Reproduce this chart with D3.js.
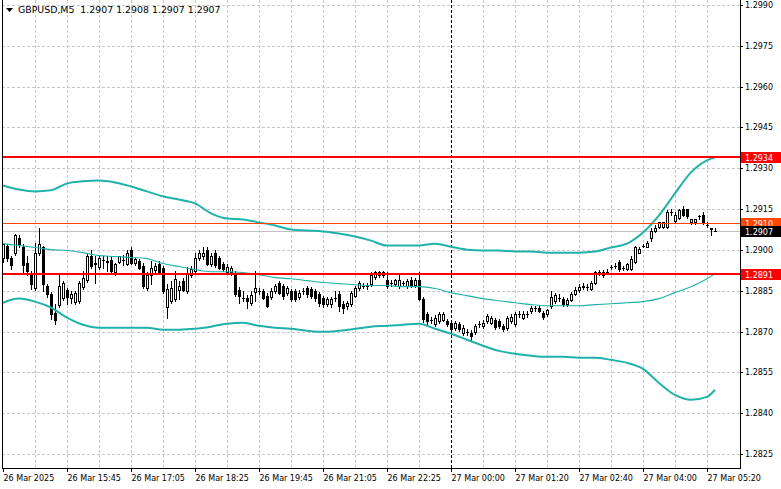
<!DOCTYPE html>
<html><head><meta charset="utf-8">
<script src="https://cdn.jsdelivr.net/npm/d3@7"></script>
<style>html,body{margin:0;padding:0;background:#fff;overflow:hidden}svg{display:block}text{font-family:"DejaVu Sans",sans-serif}</style>
</head><body><svg id="c" width="781" height="489"></svg>
<script>
const symbolTitle = "GBPUSD,M5";
const headerOHLC = ["1.2907", "1.2908", "1.2907", "1.2907"];

const opens = [1.28972,1.29016,1.28972,1.28990,1.29045,1.29012,1.28953,1.28913,1.28861,1.28990,
1.29009,1.28869,1.28839,1.28769,1.28799,1.28824,1.28854,1.28824,1.28810,1.28813,
1.28865,1.28891,1.28979,1.28950,1.28939,1.28964,1.28961,1.28964,1.28917,1.28957,
1.28964,1.28950,1.29001,1.28953,1.28961,1.28942,1.28861,1.28906,1.28928,1.28950,
1.28935,1.28791,1.28813,1.28821,1.28854,1.28887,1.28850,1.28909,1.28924,1.28972,
1.28976,1.29001,1.28950,1.28990,1.28972,1.28950,1.28920,1.28917,1.28913,1.28854,
1.28824,1.28824,1.28806,1.28847,1.28850,1.28850,1.28832,1.28828,1.28850,1.28880,
1.28869,1.28843,1.28850,1.28850,1.28828,1.28850,1.28861,1.28858,1.28850,1.28839,
1.28824,1.28802,1.28802,1.28824,1.28839,1.28802,1.28795,1.28802,1.28832,1.28861,
1.28869,1.28869,1.28876,1.28902,1.28917,1.28917,1.28891,1.28880,1.28876,1.28869,
1.28880,1.28869,1.28891,1.28872,1.28891,1.28821,1.28766,1.28743,1.28729,1.28740,
1.28743,1.28740,1.28732,1.28714,1.28729,1.28696,1.28699,1.28696,1.28699,1.28729,
1.28721,1.28740,1.28732,1.28743,1.28740,1.28721,1.28714,1.28740,1.28729,1.28766,
1.28751,1.28766,1.28777,1.28788,1.28788,1.28769,1.28766,1.28795,1.28813,1.28824,
1.28821,1.28802,1.28817,1.28839,1.28854,1.28865,1.28865,1.28858,1.28880,1.28917,
1.28906,1.28920,1.28939,1.28942,1.28957,1.28935,1.28931,1.28931,1.28957,1.28990,
1.29016,1.29012,1.29042,1.29068,1.29086,1.29086,1.29086,1.29138,1.29108,1.29119,
1.29152,1.29149,1.29101,1.29101,1.29123,1.29130,1.29093,1.29079,1.29070];

const highs = [1.29023,1.29023,1.28979,1.29060,1.29053,1.29020,1.28976,1.28924,1.29027,1.29082,
1.29016,1.28876,1.28847,1.28802,1.28909,1.28887,1.28861,1.28850,1.28850,1.28887,
1.28924,1.28987,1.28998,1.28979,1.28976,1.28979,1.28976,1.28976,1.28953,1.28979,
1.28983,1.29001,1.29012,1.28972,1.28968,1.28953,1.28917,1.28961,1.28953,1.28961,
1.28942,1.28876,1.28887,1.28924,1.28887,1.28898,1.28939,1.28942,1.28990,1.28998,
1.29012,1.29009,1.28987,1.28998,1.28979,1.28957,1.28950,1.28942,1.28924,1.28865,
1.28850,1.28836,1.28850,1.28924,1.28861,1.28858,1.28843,1.28861,1.28876,1.28887,
1.28876,1.28869,1.28858,1.28858,1.28854,1.28861,1.28869,1.28865,1.28858,1.28847,
1.28832,1.28828,1.28828,1.28850,1.28850,1.28813,1.28813,1.28850,1.28869,1.28887,
1.28880,1.28880,1.28917,1.28924,1.28924,1.28924,1.28917,1.28891,1.28894,1.28913,
1.28887,1.28894,1.28902,1.28898,1.28917,1.28828,1.28773,1.28754,1.28762,1.28773,
1.28773,1.28747,1.28740,1.28740,1.28736,1.28725,1.28710,1.28707,1.28729,1.28740,
1.28743,1.28766,1.28758,1.28751,1.28747,1.28729,1.28758,1.28766,1.28773,1.28777,
1.28777,1.28777,1.28795,1.28795,1.28795,1.28777,1.28784,1.28850,1.28843,1.28839,
1.28828,1.28824,1.28847,1.28865,1.28876,1.28880,1.28876,1.28887,1.28924,1.28928,
1.28928,1.28931,1.28946,1.28953,1.28964,1.28942,1.28953,1.28976,1.29016,1.29012,
1.29023,1.29031,1.29079,1.29090,1.29104,1.29104,1.29145,1.29149,1.29138,1.29152,
1.29160,1.29152,1.29115,1.29115,1.29130,1.29138,1.29101,1.29082,1.29080];

const lows = [1.28957,1.28961,1.28931,1.28983,1.29009,1.28917,1.28909,1.28858,1.28854,1.28983,
1.28850,1.28828,1.28747,1.28729,1.28791,1.28817,1.28802,1.28806,1.28802,1.28806,
1.28858,1.28883,1.28935,1.28880,1.28931,1.28935,1.28924,1.28917,1.28909,1.28953,
1.28946,1.28946,1.28950,1.28946,1.28931,1.28861,1.28854,1.28876,1.28917,1.28913,
1.28843,1.28751,1.28806,1.28813,1.28821,1.28850,1.28843,1.28902,1.28920,1.28964,
1.28968,1.28946,1.28942,1.28939,1.28931,1.28924,1.28913,1.28909,1.28832,1.28806,
1.28813,1.28788,1.28799,1.28813,1.28839,1.28821,1.28791,1.28821,1.28843,1.28839,
1.28821,1.28836,1.28813,1.28813,1.28821,1.28839,1.28828,1.28824,1.28813,1.28795,
1.28791,1.28795,1.28791,1.28813,1.28777,1.28769,1.28784,1.28795,1.28828,1.28854,
1.28861,1.28858,1.28869,1.28894,1.28902,1.28902,1.28861,1.28869,1.28869,1.28861,
1.28872,1.28861,1.28865,1.28865,1.28817,1.28736,1.28725,1.28732,1.28721,1.28732,
1.28740,1.28721,1.28692,1.28707,1.28703,1.28688,1.28688,1.28670,1.28692,1.28718,
1.28714,1.28732,1.28729,1.28710,1.28714,1.28703,1.28707,1.28732,1.28721,1.28754,
1.28747,1.28754,1.28769,1.28777,1.28773,1.28747,1.28758,1.28788,1.28806,1.28813,
1.28795,1.28795,1.28813,1.28836,1.28847,1.28858,1.28854,1.28854,1.28876,1.28906,
1.28902,1.28913,1.28931,1.28935,1.28924,1.28928,1.28928,1.28928,1.28953,1.28987,
1.29009,1.29009,1.29034,1.29064,1.29082,1.29082,1.29082,1.29127,1.29104,1.29115,
1.29123,1.29119,1.29097,1.29097,1.29115,1.29097,1.29086,1.29053,1.29070];

const closes = [1.29020,1.28972,1.28946,1.29053,1.29020,1.28946,1.28924,1.28876,1.28990,1.29020,
1.28876,1.28839,1.28766,1.28743,1.28869,1.28880,1.28828,1.28839,1.28843,1.28880,
1.28898,1.28979,1.28942,1.28953,1.28972,1.28964,1.28957,1.28924,1.28950,1.28976,
1.28964,1.28990,1.28953,1.28968,1.28935,1.28869,1.28906,1.28935,1.28942,1.28917,
1.28850,1.28858,1.28861,1.28894,1.28869,1.28854,1.28913,1.28931,1.28972,1.28990,
1.28990,1.28950,1.28976,1.28946,1.28935,1.28931,1.28939,1.28935,1.28839,1.28832,
1.28824,1.28813,1.28836,1.28861,1.28850,1.28824,1.28795,1.28850,1.28869,1.28843,
1.28832,1.28861,1.28821,1.28821,1.28843,1.28850,1.28839,1.28832,1.28824,1.28806,
1.28802,1.28821,1.28821,1.28824,1.28795,1.28788,1.28806,1.28843,1.28861,1.28880,
1.28869,1.28869,1.28906,1.28917,1.28906,1.28906,1.28869,1.28880,1.28891,1.28891,
1.28880,1.28887,1.28869,1.28891,1.28821,1.28747,1.28740,1.28743,1.28751,1.28766,
1.28766,1.28729,1.28710,1.28732,1.28710,1.28714,1.28699,1.28685,1.28721,1.28729,
1.28732,1.28758,1.28751,1.28718,1.28721,1.28710,1.28751,1.28754,1.28766,1.28766,
1.28766,1.28766,1.28788,1.28788,1.28777,1.28754,1.28780,1.28828,1.28836,1.28824,
1.28802,1.28817,1.28839,1.28854,1.28865,1.28869,1.28865,1.28880,1.28917,1.28917,
1.28917,1.28920,1.28939,1.28942,1.28931,1.28935,1.28950,1.28968,1.29009,1.29005,
1.29016,1.29027,1.29071,1.29082,1.29101,1.29101,1.29138,1.29138,1.29130,1.29145,
1.29127,1.29123,1.29112,1.29112,1.29123,1.29101,1.29093,1.29075,1.29070];

// Bollinger band readings at these bar indices
const bandBars = [0,4,8,12,16,20,24,28,32,36,40,44,48,52,56,60,64,68,72,76,80,84,88,92,96,100,
104,108,112,116,120,124,128,132,136,140,144,148,152,156,160,164,168,172,176,178];
const bandUpper = [1.29237,1.29222,1.29215,1.29219,1.29244,1.29252,1.29255,1.29248,1.29233,1.29215,
1.29197,1.29185,1.29171,1.29134,1.29115,1.29112,1.29101,1.29090,1.29075,1.29071,
1.29068,1.29060,1.29049,1.29034,1.29016,1.29016,1.29016,1.29023,1.29012,1.29001,
1.28998,1.28998,1.28994,1.28994,1.28990,1.28990,1.28990,1.28994,1.29009,1.29023,
1.29064,1.29127,1.29208,1.29285,1.29329,1.29340];
const bandMiddle = [1.29023,1.29016,1.29009,1.29001,1.28998,1.28990,1.28979,1.28976,1.28972,1.28968,
1.28950,1.28939,1.28928,1.28920,1.28920,1.28917,1.28909,1.28898,1.28894,1.28887,
1.28880,1.28876,1.28872,1.28869,1.28869,1.28865,1.28865,1.28858,1.28843,1.28832,
1.28821,1.28813,1.28806,1.28799,1.28795,1.28795,1.28795,1.28799,1.28802,1.28806,
1.28810,1.28821,1.28843,1.28865,1.28894,1.28913];
const bandLower = [1.28806,1.28821,1.28810,1.28788,1.28751,1.28725,1.28714,1.28714,1.28714,1.28714,
1.28707,1.28707,1.28710,1.28718,1.28729,1.28732,1.28721,1.28714,1.28710,1.28703,
1.28699,1.28703,1.28710,1.28718,1.28721,1.28725,1.28729,1.28710,1.28692,1.28670,
1.28648,1.28629,1.28618,1.28611,1.28607,1.28607,1.28604,1.28604,1.28596,1.28585,
1.28563,1.28511,1.28467,1.28449,1.28460,1.28486];

const priceTicks = [1.2990,1.2975,1.2960,1.2945,1.2930,1.2915,1.2900,1.2885,1.2870,1.2855,1.2840,1.2825];
const timeBars = [0,16,32,48,64,80,96,112,128,144,160,176];
const timeLabels = ["26 Mar 2025","26 Mar 15:45","26 Mar 17:05","26 Mar 18:25","26 Mar 19:45","26 Mar 21:05",
"26 Mar 22:25","27 Mar 00:00","27 Mar 01:20","27 Mar 02:40","27 Mar 04:00","27 Mar 05:20"];
const gridBars = [8,16,24,32,40,48,56,64,72,80,88,96,104,120,128,136,144,152,160,168,176];
const separatorBar = 112;
const redLevels = [1.2934, 1.2891];
const orangeLevel = 1.2910;
const bidPrice = 1.2907;

const svg = d3.select("#c");
const plotL = 2, plotR = 740, plotB = 468;
const x = d3.scaleLinear().domain([0, 178]).range([3, 715]);
const y = d3.scaleLinear().domain([1.2825, 1.2990]).range([454, 5]);
const ry = v => Math.round(y(v));
const fmt = d3.format(".4f");

svg.append("rect").attr("width", 781).attr("height", 489).attr("fill", "#fff");

// grid
const grid = svg.append("g").attr("shape-rendering", "crispEdges").attr("stroke", "#c8c8c8").attr("stroke-dasharray", "3,2");
grid.selectAll("line.h").data(priceTicks).join("line").attr("class", "h")
  .attr("x1", plotL).attr("x2", plotR).attr("y1", d => ry(d) + 0.5).attr("y2", d => ry(d) + 0.5);
grid.selectAll("line.v").data(gridBars).join("line").attr("class", "v")
  .attr("x1", d => Math.round(x(d)) + 0.5).attr("x2", d => Math.round(x(d)) + 0.5).attr("y1", 0).attr("y2", plotB);
svg.append("line").attr("shape-rendering", "crispEdges")
  .attr("x1", Math.round(x(separatorBar)) + 0.5).attr("x2", Math.round(x(separatorBar)) + 0.5)
  .attr("y1", 0).attr("y2", plotB).attr("stroke", "#000").attr("stroke-dasharray", "3,2");

// bid line
svg.append("line").attr("shape-rendering", "crispEdges").attr("x1", plotL).attr("x2", plotR)
  .attr("y1", ry(bidPrice) + 0.5).attr("y2", ry(bidPrice) + 0.5).attr("stroke", "#c0c0c0");

// candles
const cg = svg.append("g").attr("shape-rendering", "crispEdges");
const idx = d3.range(opens.length);
idx.forEach(i => {
  const px = Math.round(x(i));
  const yh = ry(highs[i]), yl = ry(lows[i]), yo = ry(opens[i]), yc = ry(closes[i]);
  cg.append("line").attr("x1", px + 0.5).attr("x2", px + 0.5).attr("y1", yh).attr("y2", yl + 1).attr("stroke", "#000");
  const top = Math.min(yo, yc), bot = Math.max(yo, yc);
  if (bot - top < 1) {
    cg.append("line").attr("x1", px - 1).attr("x2", px + 2).attr("y1", top + 0.5).attr("y2", top + 0.5).attr("stroke", "#000");
  } else {
    cg.append("rect").attr("x", px - 0.5).attr("y", top + 0.5).attr("width", 2).attr("height", bot - top)
      .attr("fill", closes[i] >= opens[i] ? "#fff" : "#000").attr("stroke", "#000");
  }
});

// bands
const teal = "#20b2aa";
const bandLine = arr => d3.line().x((d, k) => x(bandBars[k])).y(d => y(d)).curve(d3.curveMonotoneX)(arr);
svg.append("path").attr("d", bandLine(bandMiddle)).attr("fill", "none").attr("stroke", teal).attr("stroke-width", 1.1);
svg.append("path").attr("d", bandLine(bandUpper)).attr("fill", "none").attr("stroke", teal).attr("stroke-width", 2);
svg.append("path").attr("d", bandLine(bandLower)).attr("fill", "none").attr("stroke", teal).attr("stroke-width", 2);

// level lines
const lv = svg.append("g").attr("shape-rendering", "crispEdges");
lv.append("line").attr("x1", plotL).attr("x2", plotR).attr("y1", ry(orangeLevel) + 0.5).attr("y2", ry(orangeLevel) + 0.5)
  .attr("stroke", "#ff4500");
lv.selectAll("line.red").data(redLevels).join("line").attr("class", "red")
  .attr("x1", plotL).attr("x2", plotR).attr("y1", d => ry(d)).attr("y2", d => ry(d))
  .attr("stroke", "#ff0000").attr("stroke-width", 2);

// frame
const fr = svg.append("g").attr("shape-rendering", "crispEdges").attr("stroke", "#000");
fr.append("line").attr("x1", plotL + 0.5).attr("x2", plotL + 0.5).attr("y1", 0).attr("y2", plotB + 1);
fr.append("line").attr("x1", plotR + 0.5).attr("x2", plotR + 0.5).attr("y1", 0).attr("y2", plotB + 1);
fr.append("line").attr("x1", plotL).attr("x2", plotR + 1).attr("y1", plotB + 0.5).attr("y2", plotB + 0.5);

// right price axis
const yAxis = d3.axisRight(y).tickValues(priceTicks).tickFormat(fmt).tickSize(3).tickSizeOuter(0).tickPadding(2);
const ya = svg.append("g").attr("transform", `translate(${plotR},0)`).call(yAxis);
ya.select(".domain").remove();
ya.selectAll(".tick").attr("transform", d => `translate(0,${ry(d) + 0.5})`);
ya.selectAll(".tick line").attr("stroke", "#000").attr("shape-rendering", "crispEdges").attr("x1", 0.5);
ya.selectAll(".tick text").attr("font-family", "DejaVu Sans").attr("font-size", 8).attr("fill", "#000").attr("dy", "0.34em");

// bottom time axis
const xAxis = d3.axisBottom(x).tickValues(timeBars).tickFormat((d, k) => timeLabels[k]).tickSize(4).tickSizeOuter(0).tickPadding(3);
const xa = svg.append("g").attr("transform", `translate(0,${plotB})`).call(xAxis);
xa.select(".domain").remove();
xa.selectAll(".tick").attr("transform", d => `translate(${Math.round(x(d)) + 0.5},0)`);
xa.selectAll(".tick line").attr("stroke", "#000").attr("shape-rendering", "crispEdges").attr("y1", 1);
xa.selectAll(".tick text").attr("font-family", "DejaVu Sans").attr("font-size", 8).attr("fill", "#000")
  .attr("text-anchor", "start").attr("x", 0).attr("dy", "0.71em");

// price tags
const tags = [
  {p: redLevels[0], bg: "#ff0000", fg: "#fff"},
  {p: redLevels[1], bg: "#ff0000", fg: "#fff"},
  {p: orangeLevel, bg: "#ff4500", fg: "#fff"},
  {p: bidPrice, bg: "#000", fg: "#fff"}
];
const tg = svg.append("g");
tags.forEach(t => {
  const cy = ry(t.p);
  tg.append("rect").attr("x", plotR + 1).attr("y", cy - 5).attr("width", 781 - plotR - 1).attr("height", 11).attr("fill", t.bg)
    .attr("shape-rendering", "crispEdges");
  tg.append("text").attr("x", plotR + 5).attr("y", cy + 3.5).attr("font-size", 8).attr("fill", t.fg).text(fmt(t.p));
});

// header
svg.append("path").attr("d", "M6,8 L13,8 L9.5,12 Z").attr("fill", "#000");
svg.append("text").attr("x", 18).attr("y", 13).attr("font-size", 9.4).attr("fill", "#000")
  .style("white-space", "pre").text(symbolTitle + "  " + headerOHLC.join(" "));
</script>
</body></html>
